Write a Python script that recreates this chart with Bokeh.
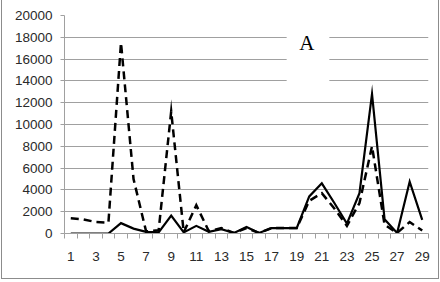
from bokeh.plotting import figure
from bokeh.models import Range1d, FixedTicker, Label, BoxAnnotation
from bokeh.embed import file_html
from bokeh.resources import INLINE

days = list(range(1, 30))
solid = [0, 0, 0, 0, 950, 450, 150, 100, 1650, 100, 700, 150, 400, 50, 600, 50,
         500, 500, 500, 3400, 4600, 2800, 900, 3700, 12800, 1300, 50, 4750, 1250]
dashed = [1400, 1300, 1050, 1000, 17500, 5000, 200, 300, 11200, 100, 2600, 200, 500, 50,
          500, 50, 500, 500, 500, 3000, 3700, 2300, 700, 2800, 8000, 800, 50, 1050, 270]
y_ticks = [0, 2000, 4000, 6000, 8000, 10000, 12000, 14000, 16000, 18000, 20000]
x_labels = list(range(1, 30, 2))
title = "A"

p = figure(width=436, height=278, output_backend="svg", toolbar_location=None,
           x_range=Range1d(0.5, 29.5), y_range=Range1d(0, 20000),
           min_border_left=62, min_border_right=10, min_border_top=15, min_border_bottom=45,
           frame_width=364, frame_height=218)
p.styles = {"margin": "-1px 0 0 1px", "border": "1px solid #8c8c8c"}
p.outline_line_color = None
p.background_fill_color = "white"

grid_c = "#a0a0a0"
p.xgrid.visible = False
p.ygrid.ticker = FixedTicker(ticks=y_ticks)
p.ygrid.grid_line_color = grid_c

p.yaxis.ticker = FixedTicker(ticks=y_ticks)
p.yaxis.axis_line_color = grid_c
p.yaxis.major_tick_line_color = grid_c
p.yaxis.major_tick_in = 0
p.yaxis.major_tick_out = 4
p.yaxis.minor_tick_line_color = None
p.yaxis.major_label_standoff = 8
p.yaxis.major_label_text_font = "Liberation Sans"
p.yaxis.major_label_text_font_size = "13.5px"
p.yaxis.major_label_text_color = "#2a2a2a"

p.xaxis.ticker = FixedTicker(ticks=x_labels, minor_ticks=[d + 0.5 for d in range(0, 30)])
p.xaxis.axis_line_color = grid_c
p.xaxis.major_tick_line_color = None
p.xaxis.minor_tick_line_color = grid_c
p.xaxis.minor_tick_in = 0
p.xaxis.minor_tick_out = 5
p.xaxis.major_label_standoff = 12
p.xaxis.major_label_text_font = "Liberation Sans"
p.xaxis.major_label_text_font_size = "13.5px"
p.xaxis.major_label_text_color = "#2a2a2a"

p.line(days, solid, line_color="black", line_width=2.2, line_join="miter")
p.line(days, dashed, line_color="black", line_width=2.5, line_dash="8 5", line_join="miter")

p.add_layout(BoxAnnotation(left=18.2, right=21.6, top=18900, bottom=13200,
                           fill_color="white", fill_alpha=1.0, line_color=None))
p.add_layout(Label(x=19.8, y=17500, text=title, text_align="center", text_baseline="middle",
                   text_font="Liberation Serif", text_font_size="21px", text_color="black"))

open("out.html", "w").write(file_html(p, INLINE))
